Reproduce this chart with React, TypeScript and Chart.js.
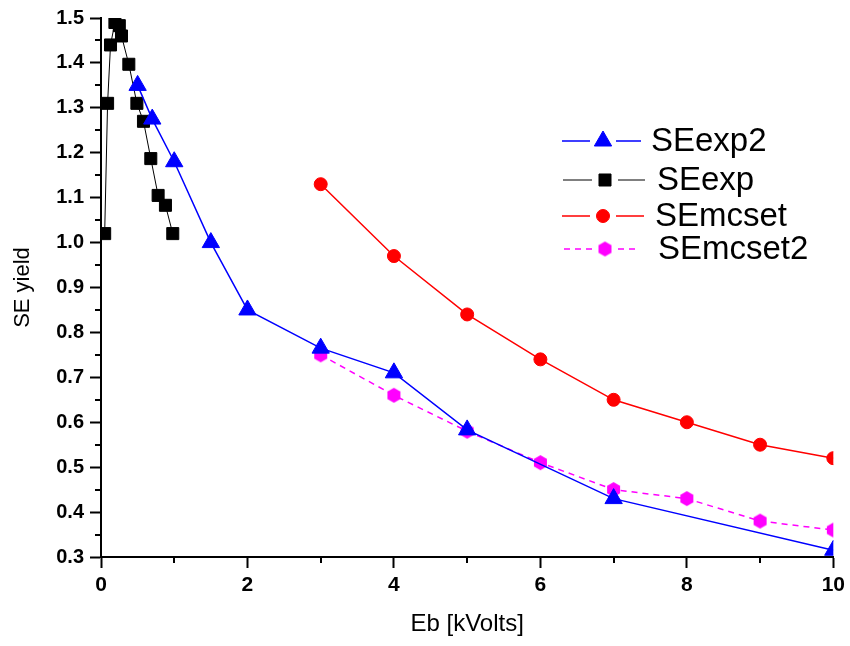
import React, { useEffect, useRef } from "react";
import { Chart, registerables } from "chart.js";
import { drawPoint } from "chart.js/helpers";

Chart.register(...registerables);

// ---- data ----
const seExp2X = [0.5, 0.7, 1.0, 1.5, 2, 3, 4, 5, 7, 10];
const seExp2Y = [1.35, 1.275, 1.18, 1.0, 0.85, 0.765, 0.71, 0.583, 0.43, 0.315];

const seExpX = [0.05, 0.09, 0.13, 0.19, 0.25, 0.28, 0.38, 0.49, 0.58, 0.68, 0.78, 0.88, 0.98];
const seExpY = [1.02, 1.31, 1.44, 1.49, 1.483, 1.46, 1.397, 1.31, 1.27, 1.187, 1.105, 1.083, 1.02];

const seMcsetX = [3, 4, 5, 6, 7, 8, 9, 10];
const seMcsetY = [1.13, 0.97, 0.84, 0.74, 0.65, 0.6, 0.55, 0.52];

const seMcset2X = [3, 4, 5, 6, 7, 8, 9, 10];
const seMcset2Y = [0.75, 0.66, 0.58, 0.51, 0.45, 0.43, 0.38, 0.36];

const seriesNames = ["SEexp2", "SEexp", "SEmcset", "SEmcset2"];

const xMajorStep = 2;
const xMinorTicks = [1, 3, 5, 7, 9];
const yMinorTicks = [0.35, 0.45, 0.55, 0.65, 0.75, 0.85, 0.95, 1.05, 1.15, 1.25, 1.35, 1.45];

const xTitle = "Eb [kVolts]";
const yTitle = "SE yield";

const FONT = "'Liberation Sans', Arial, sans-serif";

function zip(xs: number[], ys: number[]) {
  return xs.map((x, i) => ({ x, y: ys[i] }));
}

function makeHexagon(color: string, r: number) {
  const c = document.createElement("canvas");
  const s = Math.ceil(r * 2 + 2);
  c.width = s;
  c.height = s;
  const ctx = c.getContext("2d")!;
  ctx.fillStyle = color;
  ctx.beginPath();
  for (let i = 0; i < 6; i++) {
    const a = (Math.PI / 3) * i - Math.PI / 2;
    const px = s / 2 + r * Math.cos(a);
    const py = s / 2 + r * Math.sin(a);
    if (i === 0) ctx.moveTo(px, py);
    else ctx.lineTo(px, py);
  }
  ctx.closePath();
  ctx.fill();
  return c;
}

export default function App() {
  const ref = useRef<HTMLCanvasElement | null>(null);

  useEffect(() => {
    if (!ref.current) return;
    const hex = makeHexagon("#ff00ff", 7.5);

    const legendLayout = [
      { x0: 562, x1: 641, mx: 603, y: 141, tx: 651 },
      { x0: 563, x1: 645, mx: 605, y: 180, tx: 657 },
      { x0: 562, x1: 644, mx: 603, y: 216, tx: 655 },
      { x0: 564, x1: 640, mx: 605, y: 249, tx: 658 },
    ];

    const extras = {
      id: "extras",
      afterDraw(chart: any) {
        const ctx = chart.ctx;
        const xs = chart.scales.x;
        const ys = chart.scales.y;
        const area = chart.chartArea;
        ctx.save();
        ctx.strokeStyle = "#000";
        ctx.lineWidth = 2;
        // minor ticks
        yMinorTicks.forEach((v) => {
          const py = Math.round(ys.getPixelForValue(v));
          ctx.beginPath();
          ctx.moveTo(area.left - 6, py);
          ctx.lineTo(area.left, py);
          ctx.stroke();
        });
        xMinorTicks.forEach((v) => {
          const px = Math.round(xs.getPixelForValue(v));
          ctx.beginPath();
          ctx.moveTo(px, area.bottom);
          ctx.lineTo(px, area.bottom + 6);
          ctx.stroke();
        });
        // legend
        chart.data.datasets.forEach((ds: any, i: number) => {
          const L = legendLayout[i];
          ctx.save();
          ctx.strokeStyle = ds.borderColor;
          ctx.lineWidth = ds.borderWidth;
          ctx.setLineDash(ds.borderDash || []);
          ctx.beginPath();
          ctx.moveTo(L.x0, L.y);
          ctx.lineTo(L.mx - 13, L.y);
          ctx.moveTo(L.mx + 13, L.y);
          ctx.lineTo(L.x1, L.y);
          ctx.stroke();
          ctx.setLineDash([]);
          ctx.fillStyle = ds.pointBackgroundColor;
          ctx.strokeStyle = ds.pointBorderColor;
          ctx.lineWidth = 1;
          drawPoint(
            ctx,
            { pointStyle: ds.pointStyle, radius: ds.pointRadius, rotation: 0, borderWidth: 1 } as any,
            L.mx,
            L.y
          );
          ctx.fillStyle = "#000";
          ctx.font = `33px ${FONT}`;
          ctx.textBaseline = "middle";
          ctx.textAlign = "left";
          ctx.fillText(seriesNames[i], L.tx, L.y + 1);
          ctx.restore();
        });
        ctx.restore();
      },
    };

    const chart = new Chart(ref.current, {
      type: "line",
      data: {
        datasets: [
          {
            label: seriesNames[0],
            data: zip(seExp2X, seExp2Y),
            borderColor: "#0000ff",
            backgroundColor: "#0000ff",
            pointBackgroundColor: "#0000ff",
            pointBorderColor: "#0000ff",
            borderWidth: 1.5,
            pointStyle: "triangle",
            pointRadius: 10,
            pointBorderWidth: 1,
            clip: 0,
          },
          {
            label: seriesNames[1],
            data: zip(seExpX, seExpY),
            borderColor: "#000000",
            backgroundColor: "#000000",
            pointBackgroundColor: "#000000",
            pointBorderColor: "#000000",
            borderWidth: 1,
            pointStyle: "rect",
            pointRadius: 8.5,
            pointBorderWidth: 1,
            clip: 0,
          },
          {
            label: seriesNames[2],
            data: zip(seMcsetX, seMcsetY),
            borderColor: "#ff0000",
            backgroundColor: "#ff0000",
            pointBackgroundColor: "#ff0000",
            pointBorderColor: "#ff0000",
            borderWidth: 1.5,
            pointStyle: "circle",
            pointRadius: 6.5,
            pointBorderWidth: 1,
            clip: 0,
          },
          {
            label: seriesNames[3],
            data: zip(seMcset2X, seMcset2Y),
            borderColor: "#ff00ff",
            backgroundColor: "#ff00ff",
            pointBackgroundColor: "#ff00ff",
            pointBorderColor: "#ff00ff",
            borderWidth: 1.5,
            borderDash: [6, 5],
            pointStyle: hex as any,
            pointRadius: 7.5,
            pointBorderWidth: 0,
            clip: 0,
          },
        ] as any,
      },
      options: {
        animation: false,
        responsive: true,
        maintainAspectRatio: false,
        layout: { padding: { left: 0, top: 14, right: 15, bottom: 0 } },
        plugins: {
          legend: { display: false },
          tooltip: { enabled: false },
        },
        elements: { line: { tension: 0 } },
        scales: {
          x: {
            type: "linear",
            min: 0,
            max: 10,
            border: { display: true, color: "#000", width: 2 },
            grid: {
              drawOnChartArea: false,
              drawTicks: true,
              tickLength: 11,
              tickWidth: 2,
              tickColor: "#000",
            },
            ticks: {
              stepSize: xMajorStep,
              color: "#000",
              padding: 5,
              maxRotation: 0,
              font: { family: FONT, size: 21, weight: "bold" },
            },
            title: {
              display: true,
              text: xTitle,
              color: "#000",
              padding: { top: 4, bottom: 7 },
              font: { family: FONT, size: 24 },
            },
            afterFit(scale: any) {
              scale.height = 89;
            },
          },
          y: {
            type: "linear",
            min: 0.3,
            max: 1.5,
            border: { display: true, color: "#000", width: 2 },
            grid: {
              drawOnChartArea: false,
              drawTicks: true,
              tickLength: 11,
              tickWidth: 2,
              tickColor: "#000",
            },
            ticks: {
              stepSize: 0.1,
              color: "#000",
              padding: 6,
              font: { family: FONT, size: 20, weight: "bold" },
              callback: (v: any) => Number(v).toFixed(1),
            },
            title: {
              display: true,
              text: yTitle,
              color: "#000",
              padding: { top: 10, bottom: 6 },
              font: { family: FONT, size: 22 },
            },
            afterFit(scale: any) {
              scale.width = 101;
            },
          },
        },
      } as any,
      plugins: [extras],
    });
    return () => chart.destroy();
  }, []);

  return (
    <div style={{ position: "fixed", left: 0, top: 0, width: 850, height: 646, background: "#fff" }}>
      <canvas ref={ref} />
    </div>
  );
}
